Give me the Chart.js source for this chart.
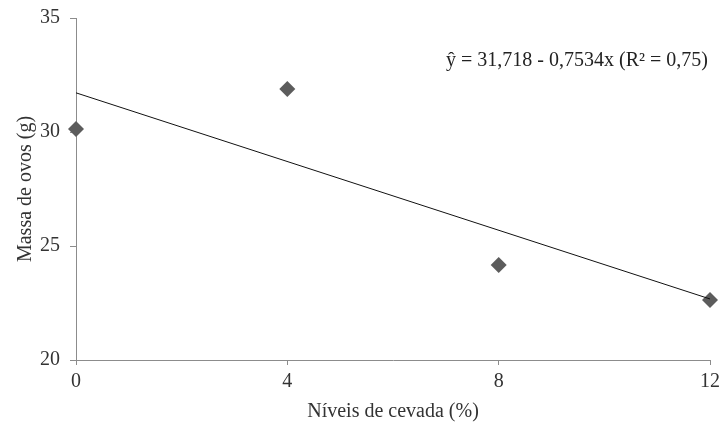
<!DOCTYPE html>
<html>
<head>
<meta charset="utf-8">
<script src="https://cdn.jsdelivr.net/npm/chart.js@4"></script>
<style>
  html, body { margin: 0; padding: 0; background: #fff; }
  #wrap { width: 724px; height: 428px; }
</style>
</head>
<body>
<div id="wrap"><canvas id="chart" width="724" height="428"></canvas></div>
<script>
// níveis de cevada (%) e massa de ovos (g)
const niveis = [0, 4, 8, 12];
const massa = [30.13, 31.89, 24.17, 22.63];
const yTicks = [20, 25, 30, 35];
const xTicks = [0, 4, 8, 12];
// regressão
const intercepto = 31.718;
const inclinacao = -0.7534;
const equacao = 'ŷ = 31,718 - 0,7534x (R² = 0,75)';

const fonte = '"Liberation Serif", "DejaVu Serif", serif';
const cinza = '#8c8c8c';
const texto = '#333333';

const pontos = niveis.map((x, i) => ({ x: x, y: massa[i] }));
const reta = [xTicks[0], xTicks[xTicks.length - 1]].map(x => ({ x: x, y: intercepto + inclinacao * x }));

const equacaoPlugin = {
  id: 'equacao',
  afterDraw(chart) {
    const ctx = chart.ctx;
    ctx.save();
    ctx.font = '20px ' + fonte;
    ctx.fillStyle = '#222';
    ctx.textAlign = 'center';
    ctx.textBaseline = 'middle';
    ctx.fillText(equacao, 577, 61);
    ctx.restore();
  }
};

new Chart(document.getElementById('chart').getContext('2d'), {
  type: 'scatter',
  data: {
    datasets: [
      {
        label: 'Massa',
        data: pontos,
        pointStyle: 'rectRot',
        pointRadius: 8,
        pointBackgroundColor: '#5c5c5c',
        pointBorderColor: '#5c5c5c',
        borderWidth: 0,
        showLine: false,
        clip: false,
        order: 2,
      },
      {
        label: 'Regressão',
        data: reta,
        showLine: true,
        borderColor: '#111',
        borderWidth: 1,
        pointRadius: 0,
        clip: false,
        order: 1,
      },
    ],
  },
  options: {
    responsive: false,
    animation: false,
    plugins: { legend: { display: false }, tooltip: { enabled: false } },
    layout: { padding: { top: 0, right: 14, left: 0, bottom: 0 } },
    scales: {
      x: {
        type: 'linear',
        min: 0,
        max: 12,
        afterBuildTicks: s => { s.ticks = xTicks.map(v => ({ value: v })); },
        afterFit: s => { s.height = 68; },
        border: { color: cinza, width: 1 },
        grid: { drawOnChartArea: false, drawTicks: true, tickLength: 5, color: cinza },
        ticks: { color: texto, font: { family: fonte, size: 20, lineHeight: 1.3 }, padding: 4 },
        title: { display: true, text: 'Níveis de cevada (%)', color: texto, font: { family: fonte, size: 20 }, padding: { top: 1 } },
      },
      y: {
        type: 'linear',
        min: 20,
        max: 35,
        afterBuildTicks: s => { s.ticks = yTicks.map(v => ({ value: v })); },
        afterFit: s => { s.width = 76; },
        border: { color: cinza, width: 1 },
        grid: { drawOnChartArea: false, drawTicks: true, tickLength: 6, color: cinza },
        ticks: { color: texto, font: { family: fonte, size: 20, lineHeight: 0.8 }, padding: 10 },
        title: { display: true, text: 'Massa de ovos (g)', color: texto, font: { family: fonte, size: 20 }, padding: { top: 14, bottom: 0 } },
      },
    },
  },
  plugins: [equacaoPlugin],
});
</script>
</body>
</html>
